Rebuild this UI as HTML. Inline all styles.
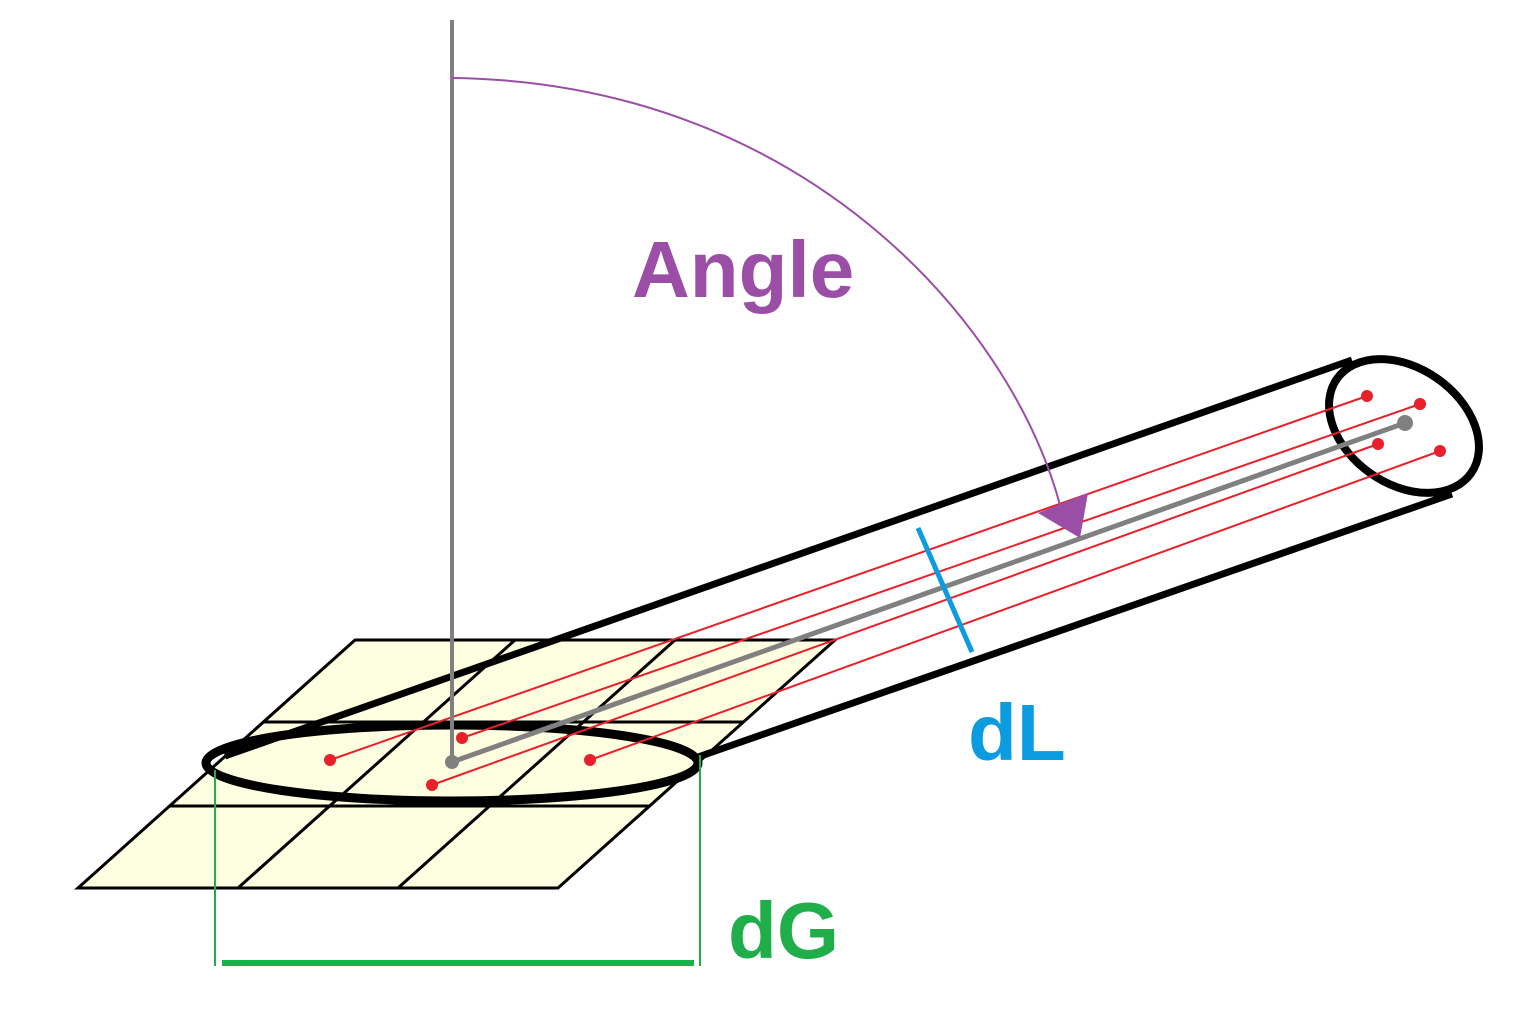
<!DOCTYPE html>
<html><head><meta charset="utf-8"><style>
html,body{margin:0;padding:0;background:#fff;}
svg{display:block;}
text{font-family:"Liberation Sans",sans-serif;font-weight:bold;}
</style></head><body>
<svg width="1536" height="1024" viewBox="0 0 1536 1024" xmlns="http://www.w3.org/2000/svg">
<rect width="1536" height="1024" fill="#fff"/>
<!-- grid -->
<polygon points="355,640 835,640 558,888 78,888" fill="#fefee0" stroke="#000" stroke-width="3"/>
<line x1="515" y1="640" x2="238" y2="888" stroke="#000" stroke-width="3"/>
<line x1="675" y1="640" x2="398" y2="888" stroke="#000" stroke-width="3"/>
<line x1="263" y1="722" x2="743" y2="722" stroke="#000" stroke-width="3"/>
<line x1="170" y1="806" x2="650" y2="806" stroke="#000" stroke-width="3"/>
<!-- tube sides -->
<line x1="225" y1="756" x2="1352" y2="360" stroke="#000" stroke-width="7"/>
<line x1="698" y1="757" x2="1452" y2="494" stroke="#000" stroke-width="7"/>
<!-- bottom ellipse -->
<ellipse cx="452" cy="763" rx="246" ry="38" fill="none" stroke="#000" stroke-width="9"/>
<!-- far ellipse -->
<ellipse cx="1404" cy="426" rx="82" ry="58" transform="rotate(35 1404 426)" fill="none" stroke="#000" stroke-width="8"/>
<!-- red lines -->
<g stroke="#e8202a" stroke-width="2">
<line x1="330" y1="760" x2="1367" y2="396"/>
<line x1="462" y1="738" x2="1420" y2="404"/>
<line x1="432" y1="785" x2="1378" y2="444"/>
<line x1="590" y1="760" x2="1440" y2="451"/>
</g>
<g fill="#e8202a">
<circle cx="330" cy="760" r="6"/><circle cx="1367" cy="396" r="6"/>
<circle cx="462" cy="738" r="6"/><circle cx="1420" cy="404" r="6"/>
<circle cx="432" cy="785" r="6"/><circle cx="1378" cy="444" r="6"/>
<circle cx="590" cy="760" r="6"/><circle cx="1440" cy="451" r="6"/>
</g>
<!-- vertical axis -->
<line x1="452" y1="20" x2="452" y2="762" stroke="#808080" stroke-width="4"/>
<!-- gray axis -->
<line x1="452" y1="762" x2="1405" y2="423" stroke="#808080" stroke-width="5"/>
<circle cx="452" cy="762" r="7" fill="#808080"/>
<circle cx="1405" cy="423" r="8" fill="#808080"/>
<!-- arc -->
<path d="M452,78 C800,82 1010,320 1060,505" fill="none" stroke="#9b4ea6" stroke-width="2"/>
<polygon points="1038,513 1088,493 1080,538" fill="#9b4ea6"/>
<text x="632" y="297" font-size="80" fill="#9b4ea6">Angle</text>
<!-- dL -->
<line x1="918" y1="528" x2="972" y2="652" stroke="#0a9be0" stroke-width="5"/>
<text x="968" y="760" font-size="80" fill="#0a9be0">dL</text>
<!-- dG -->
<line x1="215" y1="770" x2="215" y2="966" stroke="#1fae4a" stroke-width="2"/>
<line x1="700" y1="755" x2="700" y2="966" stroke="#1fae4a" stroke-width="2"/>
<line x1="222" y1="963" x2="694" y2="963" stroke="#1fae4a" stroke-width="6"/>
<text x="728" y="958" font-size="80" fill="#1fae4a">dG</text>
</svg>
</body></html>
